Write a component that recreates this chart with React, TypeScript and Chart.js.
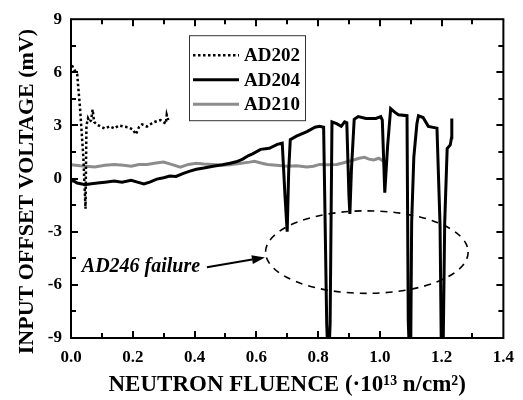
import React, { useEffect, useRef } from "react";
import { Chart, registerables } from "chart.js";

Chart.register(...registerables);

const SERIES_LABELS = ["AD202", "AD204", "AD210"];
const SERIES_COLORS = ["#000000", "#000000", "#8c8c8c"];

const AD202_X = [0.003, 0.012, 0.02, 0.03, 0.04, 0.047, 0.05, 0.055, 0.06, 0.065, 0.07, 0.075, 0.083, 0.095, 0.109, 0.125, 0.14, 0.155, 0.17, 0.185, 0.2, 0.21, 0.22, 0.23, 0.246, 0.26, 0.27, 0.29, 0.307, 0.31, 0.315];
const AD202_Y = [6.4, 6.1, 5.9, 3.8, 1.2, -1.7, 3.0, 3.4, 3.2, 3.3, 3.9, 3.2, 3.06, 2.95, 2.83, 2.95, 2.83, 3.0, 2.94, 2.9, 2.78, 2.5, 2.9, 3.06, 2.94, 3.1, 3.2, 3.3, 3.1, 3.6, 3.3];

const AD204_X = [0.0, 0.01, 0.02, 0.035, 0.045, 0.06, 0.086, 0.11, 0.14, 0.165, 0.195, 0.215, 0.236, 0.255, 0.278, 0.3, 0.32, 0.34, 0.364, 0.385, 0.406, 0.43, 0.46, 0.49, 0.515, 0.535, 0.556, 0.575, 0.588, 0.614, 0.642, 0.668, 0.684, 0.693, 0.7, 0.705, 0.71, 0.73, 0.764, 0.79, 0.805, 0.818, 0.828, 0.831, 0.836, 0.839, 0.845, 0.86, 0.875, 0.886, 0.893, 0.9, 0.903, 0.908, 0.917, 0.93, 0.955, 0.987, 1.003, 1.008, 1.016, 1.025, 1.035, 1.048, 1.06, 1.088, 1.092, 1.095, 1.1, 1.103, 1.11, 1.12, 1.125, 1.14, 1.157, 1.185, 1.195, 1.199, 1.205, 1.21, 1.218, 1.228, 1.232, 1.233];
const AD204_Y = [-0.1, -0.15, -0.25, -0.3, -0.35, -0.3, -0.25, -0.2, -0.14, -0.2, -0.1, -0.2, -0.3, -0.2, -0.03, 0.05, 0.14, 0.12, 0.3, 0.42, 0.53, 0.6, 0.7, 0.78, 0.87, 0.95, 1.1, 1.3, 1.4, 1.65, 1.71, 1.93, 2.0, -1.0, -3.0, 0.5, 2.2, 2.4, 2.65, 2.9, 2.95, 2.9, -8.2, -9.6, -9.6, -8.2, 3.2, 3.1, 2.95, 3.2, 3.15, -1.0, -2.0, 0.5, 3.35, 3.5, 3.4, 3.4, 3.5, 3.3, -0.8, 1.8, 3.95, 3.75, 3.6, 3.55, -8.0, -9.6, -9.6, -2.5, 1.2, 3.1, 3.55, 3.45, 2.95, 2.85, -2.65, -9.6, -9.6, -2.5, 1.7, 1.9, 2.3, 3.4];

const AD210_X = [0.0, 0.03, 0.077, 0.11, 0.14, 0.17, 0.195, 0.22, 0.246, 0.275, 0.3, 0.325, 0.354, 0.38, 0.406, 0.43, 0.46, 0.49, 0.514, 0.545, 0.578, 0.594, 0.615, 0.636, 0.665, 0.7, 0.73, 0.764, 0.785, 0.805, 0.83, 0.86, 0.88, 0.9, 0.915, 0.933, 0.95, 0.965, 0.98, 0.997, 1.01];
const AD210_Y = [0.78, 0.72, 0.65, 0.75, 0.8, 0.75, 0.7, 0.8, 0.8, 0.88, 0.93, 0.8, 0.65, 0.8, 0.87, 0.82, 0.8, 0.75, 0.78, 0.85, 0.93, 0.98, 0.88, 0.8, 0.75, 0.7, 0.72, 0.65, 0.7, 0.8, 0.78, 0.8, 0.88, 0.98, 1.05, 1.15, 1.2, 1.1, 1.05, 1.15, 1.0];

const X_MIN = 0, X_MAX = 1.4, X_STEP = 0.2, X_MINOR = 0.1;
const Y_MIN = -9, Y_MAX = 9, Y_STEP = 3, Y_MINOR = 1.5;

const X_TITLE = "NEUTRON FLUENCE (·10¹³ n/cm²)";
const Y_TITLE = "INPUT OFFSET VOLTAGE (mV)";

const ANNOTATION_TEXT = "AD246 failure";
const ANNOTATION_TEXT_POS = [0.035, -5.0];
const ARROW_FROM = [0.44, -5.0];
const ARROW_TO = [0.628, -4.45];
const ELLIPSE_CENTER = [0.958, -4.15];
const ELLIPSE_RADII = [0.328, 2.33];

const SERIF = "'Liberation Serif', 'Times New Roman', serif";

const toPoints = (xs: number[], ys: number[]) => xs.map((x, i) => ({ x, y: ys[i] }));

const framePlugin = {
  id: "frame",
  afterDatasetsDraw(chart: any) {
    const { ctx, chartArea: a, scales } = chart;
    const xs = scales.x, ys = scales.y;
    ctx.save();
    ctx.strokeStyle = "#000";
    ctx.lineWidth = 2;
    ctx.strokeRect(a.left, a.top, a.right - a.left, a.bottom - a.top);
    // inward ticks on all sides
    ctx.beginPath();
    const nx = Math.round((X_MAX - X_MIN) / X_MINOR);
    for (let i = 1; i < nx; i++) {
      const v = X_MIN + i * X_MINOR;
      const major = i % Math.round(X_STEP / X_MINOR) === 0;
      const len = major ? 7 : 5;
      const px = Math.round(xs.getPixelForValue(v));
      ctx.moveTo(px, a.bottom); ctx.lineTo(px, a.bottom - len);
      ctx.moveTo(px, a.top); ctx.lineTo(px, a.top + len);
    }
    const ny = Math.round((Y_MAX - Y_MIN) / Y_MINOR);
    for (let i = 1; i < ny; i++) {
      const v = Y_MIN + i * Y_MINOR;
      const major = i % Math.round(Y_STEP / Y_MINOR) === 0;
      const len = major ? 7 : 5;
      const py = Math.round(ys.getPixelForValue(v));
      ctx.moveTo(a.left, py); ctx.lineTo(a.left + len, py);
      ctx.moveTo(a.right, py); ctx.lineTo(a.right - len, py);
    }
    ctx.stroke();

    // dashed ellipse
    const cx = xs.getPixelForValue(ELLIPSE_CENTER[0]);
    const cy = ys.getPixelForValue(ELLIPSE_CENTER[1]);
    const rx = Math.abs(xs.getPixelForValue(ELLIPSE_CENTER[0] + ELLIPSE_RADII[0]) - cx);
    const ry = Math.abs(ys.getPixelForValue(ELLIPSE_CENTER[1] + ELLIPSE_RADII[1]) - cy);
    ctx.beginPath();
    ctx.setLineDash([7, 6]);
    ctx.lineWidth = 1.6;
    ctx.ellipse(cx, cy, rx, ry, 0, 0, Math.PI * 2);
    ctx.stroke();
    ctx.setLineDash([]);

    // arrow
    const x1 = xs.getPixelForValue(ARROW_FROM[0]), y1 = ys.getPixelForValue(ARROW_FROM[1]);
    const x2 = xs.getPixelForValue(ARROW_TO[0]), y2 = ys.getPixelForValue(ARROW_TO[1]);
    const ang = Math.atan2(y2 - y1, x2 - x1);
    const hl = 13, hw = 4.5;
    ctx.lineWidth = 2;
    ctx.beginPath();
    ctx.moveTo(x1, y1);
    ctx.lineTo(x2 - hl * Math.cos(ang), y2 - hl * Math.sin(ang));
    ctx.stroke();
    ctx.beginPath();
    ctx.moveTo(x2, y2);
    ctx.lineTo(x2 - hl * Math.cos(ang) + hw * Math.sin(ang), y2 - hl * Math.sin(ang) - hw * Math.cos(ang));
    ctx.lineTo(x2 - hl * Math.cos(ang) - hw * Math.sin(ang), y2 - hl * Math.sin(ang) + hw * Math.cos(ang));
    ctx.closePath();
    ctx.fillStyle = "#000";
    ctx.fill();

    // annotation text
    ctx.font = `italic bold 20px ${SERIF}`;
    ctx.textAlign = "left";
    ctx.textBaseline = "middle";
    ctx.fillText(ANNOTATION_TEXT, xs.getPixelForValue(ANNOTATION_TEXT_POS[0]), ys.getPixelForValue(ANNOTATION_TEXT_POS[1]));

    // legend
    const lx = a.left + 118, ly = a.top + 16, lw = 116, lh = 85;
    ctx.fillStyle = "#fff";
    ctx.fillRect(lx, ly, lw, lh);
    ctx.strokeStyle = "#333";
    ctx.lineWidth = 1;
    ctx.strokeRect(lx + 0.5, ly + 0.5, lw, lh);
    ctx.font = `bold 19px ${SERIF}`;
    ctx.fillStyle = "#000";
    chart.data.datasets.forEach((ds: any, i: number) => {
      const rowY = ly + 20 + i * 24.5;
      ctx.strokeStyle = ds.borderColor;
      ctx.lineWidth = ds.borderWidth;
      ctx.setLineDash(ds.borderDash || []);
      ctx.beginPath();
      ctx.moveTo(lx + 4, rowY);
      ctx.lineTo(lx + 50, rowY);
      ctx.stroke();
      ctx.setLineDash([]);
      ctx.fillStyle = "#000";
      ctx.textBaseline = "middle";
      ctx.fillText(ds.label, lx + 55, rowY + 1);
    });

    // y axis title
    ctx.save();
    ctx.translate(27, (a.top + a.bottom) / 2 + 13);
    ctx.rotate(-Math.PI / 2);
    ctx.font = `bold 22px ${SERIF}`;
    ctx.textAlign = "center";
    ctx.textBaseline = "middle";
    ctx.fillStyle = "#000";
    ctx.fillText(Y_TITLE, 0, 0);
    ctx.restore();

    ctx.restore();
  },
};

export default function App() {
  const ref = useRef<HTMLCanvasElement>(null);
  useEffect(() => {
    if (!ref.current) return;
    const tickFont = { family: SERIF, size: 17, weight: "bold" as const };
    const chart = new Chart(ref.current, {
      type: "line",
      data: {
        datasets: [
          { label: SERIES_LABELS[0], data: toPoints(AD202_X, AD202_Y), borderColor: SERIES_COLORS[0], borderWidth: 2.5, borderDash: [2.5, 2.5] },
          { label: SERIES_LABELS[1], data: toPoints(AD204_X, AD204_Y), borderColor: SERIES_COLORS[1], borderWidth: 3 },
          { label: SERIES_LABELS[2], data: toPoints(AD210_X, AD210_Y), borderColor: SERIES_COLORS[2], borderWidth: 3 },
        ].map((d) => ({ ...d, pointRadius: 0, fill: false, tension: 0, borderJoinStyle: "miter" as const })),
      },
      options: {
        responsive: false,
        devicePixelRatio: 1,
        animation: false,
        layout: { padding: { top: 17, right: 13, left: 0, bottom: 0 } },
        plugins: { legend: { display: false }, tooltip: { enabled: false } },
        scales: {
          x: {
            type: "linear",
            min: X_MIN,
            max: X_MAX,
            grid: { display: false, drawTicks: false },
            border: { display: false },
            ticks: { stepSize: X_STEP, color: "#000", font: tickFont, padding: 9, callback: (v: any) => Number(v).toFixed(1) },
            title: { display: true, text: X_TITLE, color: "#000", font: { family: SERIF, size: 23, weight: "bold" }, padding: { top: 0, bottom: 1 } },
            afterFit: (s: any) => { s.height = 62; },
          },
          y: {
            type: "linear",
            min: Y_MIN,
            max: Y_MAX,
            grid: { display: false, drawTicks: false },
            border: { display: false },
            ticks: { stepSize: Y_STEP, color: "#000", font: tickFont, padding: 9, callback: (v: any) => String(Math.round(Number(v))) },
            afterFit: (s: any) => { s.width = 71; },
          },
        },
      },
      plugins: [framePlugin],
    });
    return () => chart.destroy();
  }, []);
  return (
    <div style={{ position: "absolute", left: 0, top: 0, width: 523, height: 400, background: "#fff" }}>
      <canvas ref={ref} width={523} height={400} style={{ display: "block" }} />
    </div>
  );
}
